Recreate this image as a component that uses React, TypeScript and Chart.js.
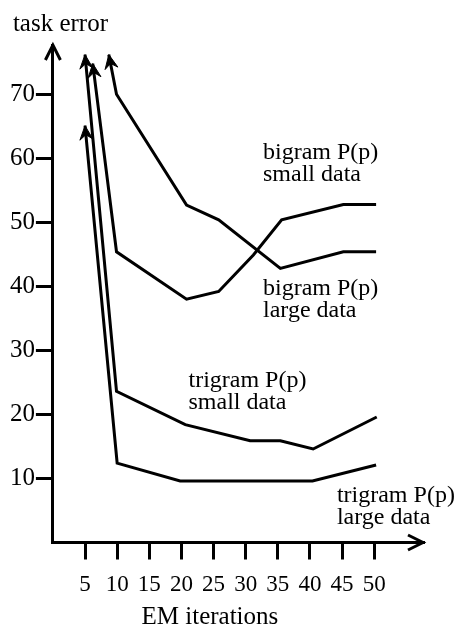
import React, { useEffect, useRef } from "react";
import { Chart, registerables } from "chart.js";

Chart.register(...registerables);

const FONT = '"Liberation Serif", "Times New Roman", serif';

// axis ticks
const xTickValues = [5, 10, 15, 20, 25, 30, 35, 40, 45, 50];
const yTickValues = [10, 20, 30, 40, 50, 60, 70];

// series (first point = arrow tip, value off the chart)
const bigramSmallX = [8.7, 9.9, 20.8, 25.8, 35.4, 45.2, 50.3];
const bigramSmallY = [76.2, 70.0, 52.7, 50.4, 42.8, 45.4, 45.4];
const bigramLargeX = [6.2, 9.9, 20.8, 25.8, 31.2, 35.6, 45.2, 50.3];
const bigramLargeY = [74.8, 45.4, 38.0, 39.2, 44.9, 50.4, 52.8, 52.8];
const trigramSmallX = [5.0, 9.9, 20.6, 30.7, 35.4, 40.5, 50.4];
const trigramSmallY = [76.2, 23.6, 18.4, 15.9, 15.9, 14.6, 19.6];
const trigramLargeX = [5.0, 10.0, 19.8, 40.4, 50.3];
const trigramLargeY = [65.1, 12.4, 9.6, 9.6, 12.1];

// annotation texts and their anchors in data coordinates
const labelTexts = [
  ["bigram P(p)", "small data"],
  ["bigram P(p)", "large data"],
  ["trigram P(p)", "small data"],
  ["trigram P(p)", "large data"],
];
const labelAnchorX = [32.7, 32.7, 21.1, 44.2];
const labelAnchorY = [59.9, 38.7, 24.3, 6.3];

const X_MAX = 57.6;
const Y_MAX = 77.7;

function pts(xs: number[], ys: number[]) {
  return xs.map((x, i) => ({ x, y: ys[i] }));
}

const decorPlugin = {
  id: "decor",
  afterDatasetsDraw(chart: any) {
    const { ctx, chartArea, scales } = chart;
    const xs = scales.x;
    const ys = scales.y;
    const L = chartArea.left;
    const T = chartArea.top;
    const R = chartArea.right;
    const B = chartArea.bottom;
    ctx.save();
    ctx.strokeStyle = "#000";
    ctx.fillStyle = "#000";
    ctx.lineWidth = 3;
    ctx.lineJoin = "miter";
    ctx.lineCap = "butt";

    // axis arrow heads (open chevrons)
    ctx.beginPath();
    ctx.moveTo(L - 7.5, T + 15);
    ctx.lineTo(L, T);
    ctx.lineTo(L + 7.5, T + 15);
    ctx.stroke();
    ctx.beginPath();
    ctx.moveTo(R - 15, B - 7.5);
    ctx.lineTo(R, B);
    ctx.lineTo(R - 15, B + 7.5);
    ctx.stroke();

    // arrow heads at the first point of every series
    chart.data.datasets.forEach((_ds: any, i: number) => {
      const meta = chart.getDatasetMeta(i);
      const p0 = meta.data[0];
      const p1 = meta.data[1];
      if (!p0 || !p1) return;
      let ux = p0.x - p1.x;
      let uy = p0.y - p1.y;
      const len = Math.hypot(ux, uy) || 1;
      ux /= len;
      uy /= len;
      const nx = -uy;
      const ny = ux;
      const back = 14;
      const half = 6.5;
      const notch = 9;
      const bx = p0.x - ux * back;
      const by = p0.y - uy * back;
      ctx.beginPath();
      ctx.moveTo(p0.x, p0.y);
      ctx.lineTo(bx + nx * half, by + ny * half);
      ctx.lineTo(p0.x - ux * notch, p0.y - uy * notch);
      ctx.lineTo(bx - nx * half, by - ny * half);
      ctx.closePath();
      ctx.fill();
      ctx.lineWidth = 1;
      ctx.stroke();
      ctx.lineWidth = 3;
    });

    // annotations
    ctx.font = `24px ${FONT}`;
    ctx.textAlign = "left";
    ctx.textBaseline = "alphabetic";
    labelTexts.forEach((lines, i) => {
      const px = xs.getPixelForValue(labelAnchorX[i]);
      const py = ys.getPixelForValue(labelAnchorY[i]);
      lines.forEach((t, j) => ctx.fillText(t, px, py + j * 22));
    });

    // axis titles
    ctx.font = `25px ${FONT}`;
    ctx.textAlign = "left";
    ctx.fillText("task error", L - 40, T - 14);
    ctx.textAlign = "center";
    ctx.fillText("EM iterations", L + 157, B + 81);
    ctx.restore();
  },
};

export default function App() {
  const ref = useRef<HTMLCanvasElement | null>(null);

  useEffect(() => {
    if (!ref.current) return;
    const line = {
      showLine: true,
      borderColor: "#000",
      backgroundColor: "#000",
      borderWidth: 3,
      pointRadius: 0,
      pointHoverRadius: 0,
      tension: 0,
      fill: false,
      clip: false as any,
    };
    const chart = new Chart(ref.current, {
      type: "scatter",
      data: {
        datasets: [
          { ...line, label: "bigram P(p) small data", data: pts(bigramSmallX, bigramSmallY) },
          { ...line, label: "bigram P(p) large data", data: pts(bigramLargeX, bigramLargeY) },
          { ...line, label: "trigram P(p) small data", data: pts(trigramSmallX, trigramSmallY) },
          { ...line, label: "trigram P(p) large data", data: pts(trigramLargeX, trigramLargeY) },
        ],
      },
      options: {
        responsive: false,
        animation: false,
        devicePixelRatio: 1,
        layout: { padding: { left: 0, top: 45, right: 33, bottom: 0 } },
        plugins: {
          legend: { display: false },
          tooltip: { enabled: false },
          title: { display: false },
        },
        scales: {
          x: {
            type: "linear",
            min: 0,
            max: X_MAX,
            afterBuildTicks: (s: any) => {
              s.ticks = xTickValues.map((v) => ({ value: v }));
            },
            afterFit: (s: any) => {
              s.height = 82.5;
            },
            border: { display: true, color: "#000", width: 3 },
            grid: {
              display: true,
              drawOnChartArea: false,
              drawTicks: true,
              tickLength: 17,
              color: "#000",
              lineWidth: 3,
            },
            ticks: {
              autoSkip: false,
              maxRotation: 0,
              padding: 12,
              color: "#000",
              font: { family: FONT, size: 23 },
              callback: (v: any) => String(v),
            },
          },
          y: {
            type: "linear",
            min: 0,
            max: Y_MAX,
            afterBuildTicks: (s: any) => {
              s.ticks = yTickValues.map((v) => ({ value: v }));
            },
            afterFit: (s: any) => {
              s.width = 52.9;
            },
            border: { display: true, color: "#000", width: 3 },
            grid: {
              display: true,
              drawOnChartArea: false,
              drawTicks: true,
              tickLength: 17,
              color: "#000",
              lineWidth: 3,
            },
            ticks: {
              autoSkip: false,
              padding: 1,
              color: "#000",
              font: { family: FONT, size: 25 },
              callback: (v: any) => String(v),
            },
          },
        },
      },
      plugins: [decorPlugin],
    });
    return () => chart.destroy();
  }, []);

  return (
    <div style={{ position: "absolute", left: 0, top: 0, width: 456, height: 625, background: "#fff" }}>
      <canvas ref={ref} width={456} height={625} style={{ display: "block" }} />
    </div>
  );
}
